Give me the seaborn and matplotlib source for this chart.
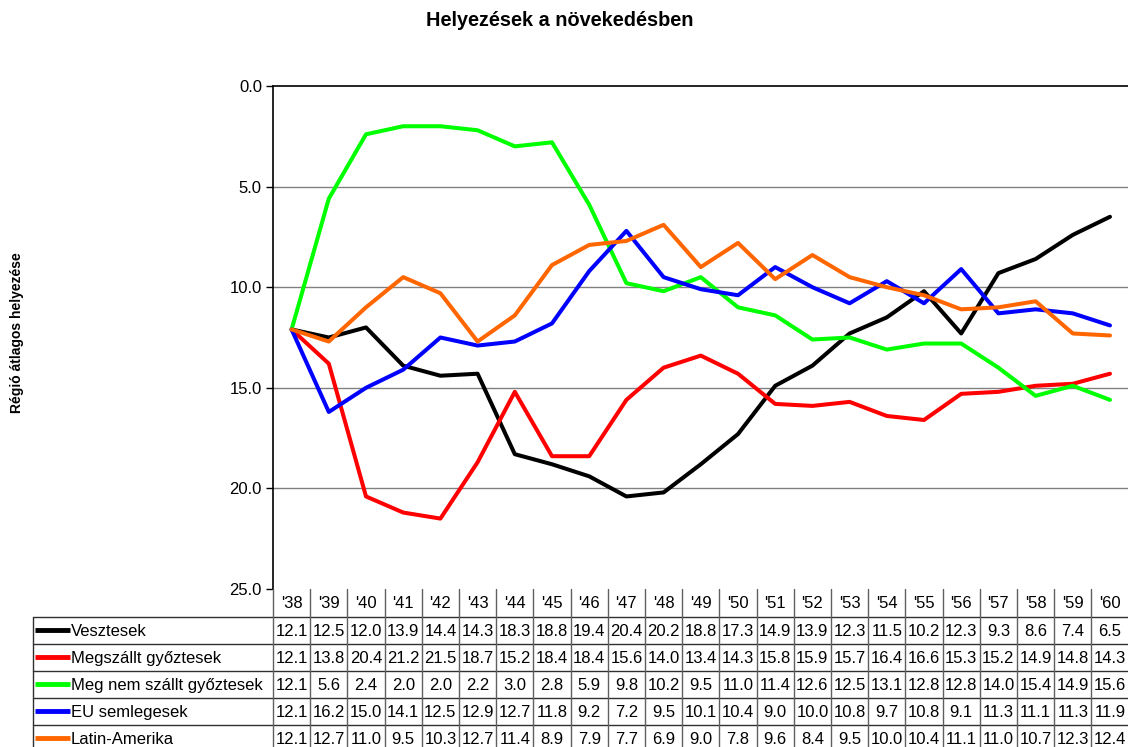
import matplotlib
matplotlib.use("Agg")
import matplotlib.pyplot as plt
import seaborn as sns
import pandas as pd
import numpy as np
from matplotlib.lines import Line2D

# ---- data ----
years = ["'38", "'39", "'40", "'41", "'42", "'43", "'44", "'45", "'46", "'47", "'48", "'49",
         "'50", "'51", "'52", "'53", "'54", "'55", "'56", "'57", "'58", "'59", "'60"]
vesztesek = [12.1, 12.5, 12.0, 13.9, 14.4, 14.3, 18.3, 18.8, 19.4, 20.4, 20.2, 18.8,
             17.3, 14.9, 13.9, 12.3, 11.5, 10.2, 12.3, 9.3, 8.6, 7.4, 6.5]
megszallt = [12.1, 13.8, 20.4, 21.2, 21.5, 18.7, 15.2, 18.4, 18.4, 15.6, 14.0, 13.4,
             14.3, 15.8, 15.9, 15.7, 16.4, 16.6, 15.3, 15.2, 14.9, 14.8, 14.3]
meg_nem_szallt = [12.1, 5.6, 2.4, 2.0, 2.0, 2.2, 3.0, 2.8, 5.9, 9.8, 10.2, 9.5,
                  11.0, 11.4, 12.6, 12.5, 13.1, 12.8, 12.8, 14.0, 15.4, 14.9, 15.6]
eu_semlegesek = [12.1, 16.2, 15.0, 14.1, 12.5, 12.9, 12.7, 11.8, 9.2, 7.2, 9.5, 10.1,
                 10.4, 9.0, 10.0, 10.8, 9.7, 10.8, 9.1, 11.3, 11.1, 11.3, 11.9]
latin_amerika = [12.1, 12.7, 11.0, 9.5, 10.3, 12.7, 11.4, 8.9, 7.9, 7.7, 6.9, 9.0,
                 7.8, 9.6, 8.4, 9.5, 10.0, 10.4, 11.1, 11.0, 10.7, 12.3, 12.4]

series_names = ["Vesztesek", "Megszállt győztesek", "Meg nem szállt győztesek",
                "EU semlegesek", "Latin-Amerika"]
series_values = [vesztesek, megszallt, meg_nem_szallt, eu_semlegesek, latin_amerika]
colors = ["#000000", "#FF0000", "#00FF00", "#0000FF", "#FF6600"]

title = "Helyezések a növekedésben"
ylabel = "Régió átlagos helyezése"

# ---- style ----
sns.set_theme(style="white")
plt.rcParams["font.family"] = ["Liberation Sans", "DejaVu Sans"]
plt.rcParams["text.color"] = "black"
plt.rcParams["axes.labelcolor"] = "black"
plt.rcParams["ytick.color"] = "black"

W, H = 1128, 747
fig = plt.figure(figsize=(W / 100, H / 100), dpi=100)

def px(x0, y0, x1, y1):
    return [x0 / W, 1 - y1 / H, (x1 - x0) / W, (y1 - y0) / H]

x_left = 273
col_w = 37.2
n = len(years)
x_right = x_left + n * col_w
y_top, y_bot = 86, 589

ax = fig.add_axes(px(x_left, y_top, x_right, y_bot))

rows = []
for name, vals in zip(series_names, series_values):
    for i, v in enumerate(vals):
        rows.append({"pos": i + 0.5, "value": v, "series": name})
df = pd.DataFrame(rows)

sns.lineplot(data=df, x="pos", y="value", hue="series", hue_order=series_names,
             palette=dict(zip(series_names, colors)), linewidth=2.9, sort=False,
             legend=False, ax=ax)

ax.set_xlim(0, n)
ax.set_ylim(25, 0)
ax.set_yticks([0, 5, 10, 15, 20, 25])
ax.set_yticklabels([f"{t:.1f}" for t in [0, 5, 10, 15, 20, 25]], fontsize=12)
ax.set_xticks([])
ax.set_xlabel("")
ax.set_ylabel("")
for t in [5, 10, 15, 20]:
    ax.axhline(t, color="#808080", linewidth=1.0, zorder=0)
ax.tick_params(axis="y", direction="out", length=5, width=1, color="black",
               left=True, pad=3, labelcolor="black")
for s in ["top", "left"]:
    ax.spines[s].set_visible(True)
    ax.spines[s].set_color("black")
    ax.spines[s].set_linewidth(1.2)
ax.spines["right"].set_visible(False)
ax.spines["bottom"].set_visible(False)

fig.text(560 / W, 1 - 21 / H, title, ha="center", va="center", fontsize=14.3,
         fontweight="bold", color="black")
fig.text(17 / W, 1 - 333 / H, ylabel, ha="center", va="center", rotation=90,
         fontsize=10, fontweight="bold", color="black")

# ---- data table ----
tab = fig.add_axes([0, 0, 1, 1])
tab.set_xlim(0, W)
tab.set_ylim(H, 0)
tab.axis("off")

hdr_top, hdr_bot = y_bot, 617
row_h = 27
table_bottom = hdr_bot + row_h * len(series_names)
lab_left = 33
line_col = "#303030"

# horizontal lines
tab.plot([x_left, x_right], [hdr_bot, hdr_bot], color=line_col, lw=1)
for r in range(1, len(series_names) + 1):
    yy = hdr_bot + r * row_h
    tab.plot([lab_left, x_right], [yy, yy], color=line_col, lw=1)
tab.plot([lab_left, x_left], [hdr_bot, hdr_bot], color=line_col, lw=1)
# vertical lines
tab.plot([lab_left, lab_left], [hdr_bot, table_bottom], color=line_col, lw=1)
for c in range(n + 1):
    xx = x_left + c * col_w
    tab.plot([xx, xx], [hdr_top, table_bottom], color="#606060", lw=1)

# header
for i, yr in enumerate(years):
    tab.text(x_left + (i + 0.5) * col_w, (hdr_top + hdr_bot) / 2 + 1, yr,
             ha="center", va="center", fontsize=12, color="black")

# rows
for r, (name, vals, col) in enumerate(zip(series_names, series_values, colors)):
    yc = hdr_bot + (r + 0.5) * row_h + 1
    tab.add_line(Line2D([35, 70], [yc - 2, yc - 2], color=col, lw=3.5, solid_capstyle="butt"))
    tab.text(71, yc, name, ha="left", va="center", fontsize=12, color="black")
    for i, v in enumerate(vals):
        tab.text(x_left + (i + 0.5) * col_w, yc, f"{v:.1f}", ha="center", va="center",
                 fontsize=12, color="black")

fig.savefig("out.png", dpi=100)
